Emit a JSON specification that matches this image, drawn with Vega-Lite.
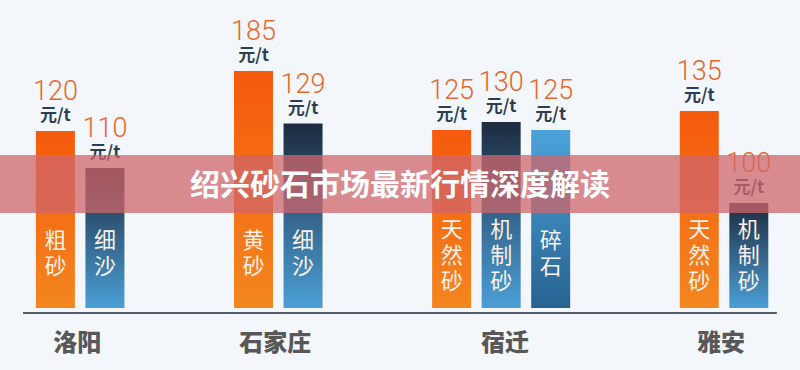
{
  "$schema": "https://vega.github.io/schema/vega-lite/v6.json",
  "width": 800,
  "height": 370,
  "autosize": {"type": "fit", "contains": "padding"},
  "padding": 0,
  "background": "#f3f7fb",
  "config": {"view": {"stroke": null}},
  "data": {
    "values": [
      {"bar": "洛阳粗砂", "city": "洛阳", "product": "粗砂", "chars": ["粗", "砂"], "price": 120},
      {"bar": "洛阳细沙", "city": "洛阳", "product": "细沙", "chars": ["细", "沙"], "price": 110},
      {"bar": "石家庄黄砂", "city": "石家庄", "product": "黄砂", "chars": ["黄", "砂"], "price": 185},
      {"bar": "石家庄细沙", "city": "石家庄", "product": "细沙", "chars": ["细", "沙"], "price": 129},
      {"bar": "宿迁天然砂", "city": "宿迁", "product": "天然砂", "chars": ["天", "然", "砂"], "price": 125},
      {"bar": "宿迁机制砂", "city": "宿迁", "product": "机制砂", "chars": ["机", "制", "砂"], "price": 130},
      {"bar": "宿迁碎石", "city": "宿迁", "product": "碎石", "chars": ["碎", "石"], "price": 125},
      {"bar": "雅安天然砂", "city": "雅安", "product": "天然砂", "chars": ["天", "然", "砂"], "price": 135},
      {"bar": "雅安机制砂", "city": "雅安", "product": "机制砂", "chars": ["机", "制", "砂"], "price": 100}
    ]
  },
  "layer": [
    {
      "transform": [{"filter": {"field": "product", "oneOf": ["粗砂", "黄砂", "天然砂"]}}],
      "mark": {"type": "bar", "color": {"gradient": "linear", "x1": 0, "y1": 0, "x2": 0, "y2": 1, "stops": [{"offset": 0, "color": "#f55a0c"}, {"offset": 1, "color": "#f3861f"}]}},
      "encoding": {
        "x": {"field": "bar", "type": "nominal", "axis": null, "scale": {"domain": ["洛阳粗砂", "洛阳细沙", "s1", "s2", "石家庄黄砂", "石家庄细沙", "s3", "s4", "宿迁天然砂", "宿迁机制砂", "宿迁碎石", "s5", "s6", "雅安天然砂", "雅安机制砂"], "range": [35.9, 768.3], "paddingInner": 0.2126, "paddingOuter": 0}},
        "y": {"field": "price", "type": "quantitative", "axis": null, "scale": {"domain": [0, 100, 110, 120, 125, 130, 135, 185], "range": [308, 203, 168, 131, 130, 122, 111, 71], "nice": false, "zero": false}},
        "y2": {"datum": 0}
      }
    },
    {
      "transform": [{"filter": {"field": "product", "oneOf": ["细沙", "机制砂"]}}],
      "mark": {"type": "bar", "color": {"gradient": "linear", "x1": 0, "y1": 0, "x2": 0, "y2": 1, "stops": [{"offset": 0, "color": "#1d2b3f"}, {"offset": 1, "color": "#4b9fd6"}]}},
      "encoding": {
        "x": {"field": "bar", "type": "nominal"},
        "y": {"field": "price", "type": "quantitative"},
        "y2": {"datum": 0}
      }
    },
    {
      "transform": [{"filter": {"field": "product", "oneOf": ["碎石"]}}],
      "mark": {"type": "bar", "color": {"gradient": "linear", "x1": 0, "y1": 0, "x2": 0, "y2": 1, "stops": [{"offset": 0, "color": "#4ba3da"}, {"offset": 1, "color": "#276391"}]}},
      "encoding": {
        "x": {"field": "bar", "type": "nominal"},
        "y": {"field": "price", "type": "quantitative"},
        "y2": {"datum": 0}
      }
    },
    {
      "transform": [{"filter": {"field": "product", "oneOf": ["粗砂", "细沙", "黄砂", "碎石"]}}],
      "mark": {"type": "text", "font": "Noto Sans CJK SC", "fontSize": 22, "lineHeight": 26, "baseline": "middle", "align": "center", "color": "#fbf1ea"},
      "encoding": {
        "x": {"field": "bar", "type": "nominal"},
        "y": {"datum": 63.8},
        "text": {"field": "chars"}
      }
    },
    {
      "transform": [{"filter": {"field": "product", "oneOf": ["天然砂", "机制砂"]}}],
      "mark": {"type": "text", "font": "Noto Sans CJK SC", "fontSize": 22, "lineHeight": 26, "baseline": "middle", "align": "center", "color": "#fbf1ea"},
      "encoding": {
        "x": {"field": "bar", "type": "nominal"},
        "y": {"datum": 74.3},
        "text": {"field": "chars"}
      }
    },
    {
      "mark": {"type": "text", "font": "Roboto", "fontWeight": 300, "fontSize": 27, "baseline": "alphabetic", "align": "center", "dy": -31, "color": "#e8672b"},
      "encoding": {
        "x": {"field": "bar", "type": "nominal"},
        "y": {"field": "price", "type": "quantitative"},
        "text": {"field": "price", "type": "quantitative"}
      }
    },
    {
      "mark": {"type": "text", "font": "Noto Sans CJK SC", "fontWeight": "bold", "fontSize": 17, "baseline": "alphabetic", "align": "center", "dy": -10, "color": "#2d3e53", "text": "元/t"},
      "encoding": {
        "x": {"field": "bar", "type": "nominal"},
        "y": {"field": "price", "type": "quantitative"}
      }
    },
    {
      "data": {"values": [{}]},
      "mark": {"type": "rule", "color": "#1e2a3a", "strokeWidth": 1.5},
      "encoding": {
        "x": {"datum": "洛阳粗砂", "bandPosition": -0.33},
        "x2": {"datum": "雅安机制砂", "bandPosition": 1.22},
        "y": {"datum": -4.76}
      }
    },
    {
      "transform": [{"filter": {"field": "bar", "oneOf": ["洛阳粗砂", "石家庄黄砂", "雅安天然砂"]}}],
      "mark": {"type": "text", "font": "Noto Sans CJK SC", "fontWeight": 900, "fontSize": 24, "baseline": "middle", "align": "center", "color": "#585858"},
      "encoding": {
        "x": {"field": "bar", "type": "nominal", "bandPosition": 1.06},
        "y": {"datum": -34.3},
        "text": {"field": "city"}
      }
    },
    {
      "transform": [{"filter": {"field": "bar", "equal": "宿迁机制砂"}}],
      "mark": {"type": "text", "font": "Noto Sans CJK SC", "fontWeight": 900, "fontSize": 24, "baseline": "middle", "align": "center", "color": "#585858"},
      "encoding": {
        "x": {"field": "bar", "type": "nominal", "bandPosition": 0.6},
        "y": {"datum": -34.3},
        "text": {"field": "city"}
      }
    },
    {
      "data": {"values": [{}]},
      "mark": {"type": "rect", "color": "#d0656b", "opacity": 0.75},
      "encoding": {
        "y": {"datum": 113.5},
        "y2": {"datum": 90.5}
      }
    },
    {
      "data": {"values": [{"title": "绍兴砂石市场最新行情深度解读"}]},
      "mark": {"type": "text", "font": "Noto Sans CJK SC", "fontWeight": "bold", "fontSize": 30, "baseline": "middle", "align": "center", "color": "#ffffff"},
      "encoding": {
        "y": {"datum": 104.9},
        "text": {"field": "title"}
      }
    }
  ]
}
